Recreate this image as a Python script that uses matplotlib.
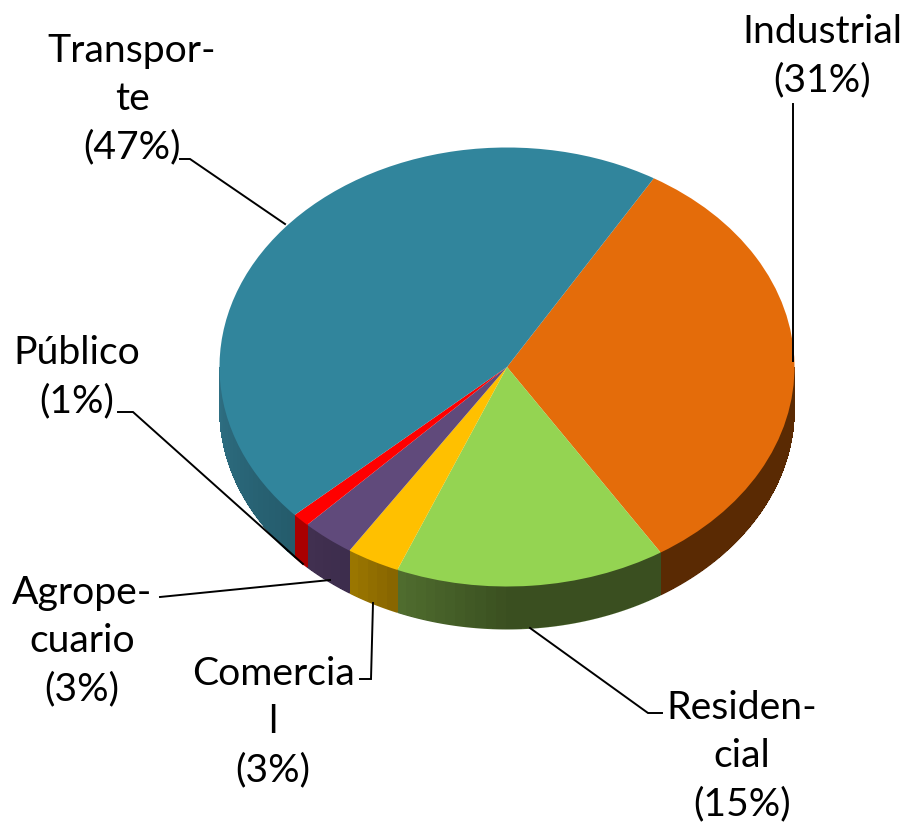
import numpy as np
import matplotlib
matplotlib.use("Agg")
import matplotlib.pyplot as plt
from matplotlib.colors import to_rgb

plt.rcParams['font.family'] = ['Lato', 'DejaVu Sans']

# Slices, clockwise from the top right edge. Shares are read from the drawn
# angles, the 3D view makes them differ a bit from the printed percents.
categories = ['Industrial', 'Residencial', 'Comercial', 'Agropecuario', 'Público', 'Transporte']
shares = [32.5, 15.2, 3.0, 3.0, 1.0, 45.3]
top_colors = ['#E46C0A', '#94D452', '#FFC000', '#604A7B', '#FF0000', '#31859C']
side_left = ['#5A2A03', '#4F6C2E', '#9A7600', '#413050', '#AA0000', '#2F7084']
side_right = ['#5A2A03', '#3A4F20', '#846200', '#3C2C4C', '#AA0000', '#245B6B']

label_texts = ['Industrial\n(31%)', 'Residen-\ncial\n(15%)', 'Comercia\nl\n(3%)',
               'Agrope-\ncuario\n(3%)', 'Público\n(1%)', 'Transpor-\nte\n(47%)']
label_pos = [(822, 56), (742, 756), (273, 722), (82, 641), (77, 377), (132, 99)]
leaders = [
    [(793, 105), (793, 362)],
    [(530, 629), (648, 714), (662, 714)],
    [(373, 604), (371, 680), (360, 680)],
    [(160, 598), (330, 581)],
    [(118, 413), (133, 413), (303, 565)],
    [(180, 160), (190, 160), (285, 225)],
]

W, H = 913, 829
cx, cy, rx, ry = 507, 368, 287.5, 219.5
depth = 43 / ry
start = 59.3


def px(x, y):
    return (x - cx) / rx, (cy - y) / ry


fig = plt.figure(figsize=(W / 100, H / 100), dpi=100)
ax = fig.add_axes([0, 0, 1, 1])

# side wall first, then the top face over it
edges = start - np.cumsum([0] + shares) * 3.6
for i in range(len(shares)):
    a0, a1 = edges[i], edges[i + 1]
    # only the front half of the rim can be seen
    if a0 > 0:
        a0 = 0
    if a1 < -180:
        a1 = -180
    if a0 <= a1:
        continue
    c0, c1 = np.array(to_rgb(side_left[i])), np.array(to_rgb(side_right[i]))

    # smooth outline in the mean colour, plain strips on top give the shading
    ang = np.radians(np.linspace(a1, a0, 80))
    xs, ys = np.cos(ang), np.sin(ang)
    ax.fill(np.r_[xs, xs[::-1]], np.r_[ys, ys[::-1] - depth], color=(c0 + c1) / 2, lw=0)

    steps = max(int((a0 - a1) / 2), 1)
    ang = np.radians(np.linspace(a1, a0, steps + 1))
    inner = depth - 1.2 / ry
    for k in range(steps):
        t = min(1.0, 2.5 * k / steps) if categories[i] == 'Residencial' else k / steps
        col = c0 + (c1 - c0) * t
        seg = np.linspace(ang[k], ang[k + 1], 4)
        xs, ys = np.cos(seg), np.sin(seg)
        ax.fill(np.r_[xs, xs[::-1]], np.r_[ys, ys[::-1] - inner], color=col, lw=0, antialiased=False)

ax.pie(shares, colors=top_colors, startangle=start, counterclock=False, radius=1,
       wedgeprops={'linewidth': 0})

ax.set_aspect('auto')
ax.set_xlim(px(0, 0)[0], px(W, 0)[0])
ax.set_ylim(px(0, H)[1], px(0, 0)[1])

for line in leaders:
    pts = np.array([px(x, y) for x, y in line])
    ax.plot(pts[:, 0], pts[:, 1], color='black', lw=1.4, solid_joinstyle='miter')

for txt, pos in zip(label_texts, label_pos):
    x, y = px(*pos)
    ax.text(x, y, txt, ha='center', va='center', fontsize=28.2, color='black', linespacing=1.43)

fig.savefig('out.png', dpi=100)
